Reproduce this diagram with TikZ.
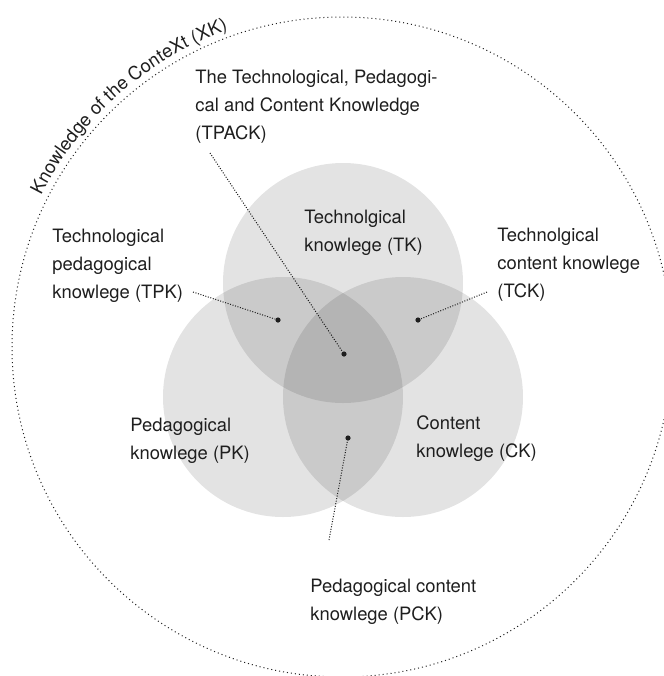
\documentclass[tikz,border=0pt]{standalone}
\usepackage{fontspec}
\setmainfont{TeX Gyre Heros}
\usepackage{xcolor}
\usepackage{tikz}
\usetikzlibrary{positioning, decorations.text}
\definecolor{textgray}{HTML}{1E1E1E}

\begin{document}
\begin{tikzpicture}[x=0.5pt, y=-0.5pt]
    % Styles
    \tikzstyle{set_circle} = [circle, fill=black, fill opacity=0.11, minimum size=120pt, inner sep=0pt]
    \tikzstyle{context} = [circle, draw=textgray, line width=0.5pt, dash pattern=on 0.5pt off 1.5pt, minimum size=330pt, inner sep=0pt]
    \tikzstyle{label_text} = [align=left, anchor=base west, inner sep=0pt, text=textgray, font=\fontsize{9.2}{14}\selectfont]
    \tikzstyle{leader_dot} = [circle, fill=textgray, minimum size=2.6pt, inner sep=0pt]
    \tikzstyle{leader} = [draw=textgray, line width=0.5pt, dash pattern=on 0.5pt off 0.8pt]
    \useasboundingbox (0,0) rectangle (664,676);
    % Context
    \node[context] (xk) at (342,347) {};
    \path[decorate, decoration={text along path, text align=center, text color=textgray,
        text={|\fontsize{9.2}{14}\selectfont|Knowledge of the ConteXt (XK)}}]
        (xk.center) ++(-165:337) arc[start angle=-165, end angle=-98, radius=337];
    % Knowledge circles
    \node[set_circle] (tk) at (343,283) {};
    \node[set_circle] (pk) at (283,397) {};
    \node[set_circle] (ck) at (403,397) {};
    % Labels (base = last line)
    \node[label_text] (tpack) at (195,139) {The Technological, Pedagogi-\\cal and Content Knowledge\\(TPACK)};
    \node[label_text] (tk_text) at (304,251) {Technolgical\\knowlege (TK)};
    \node[label_text] (tpk) at (52,298) {Technological\\pedagogical\\knowlege (TPK)};
    \node[label_text] (tck) at (497,297) {Technolgical\\content knowlege\\(TCK)};
    \node[label_text] (pk_text) at (130,459) {Pedagogical\\knowlege (PK)};
    \node[label_text] (ck_text) at (416,457) {Content\\knowlege (CK)};
    \node[label_text] (pck) at (310,620) {Pedagogical content\\knowlege (PCK)};
    % Leaders
    \node[leader_dot] (tpack_dot) at (344,354) {};
    \node[leader_dot] (tpk_dot) at (278,320) {};
    \node[leader_dot] (tck_dot) at (418,320) {};
    \node[leader_dot] (pck_dot) at (348,438) {};
    \coordinate (tpack_end) at (210,153);
    \coordinate (tpk_end) at (193,292);
    \coordinate (tck_end) at (487,292);
    \coordinate (pck_end) at (329,540);
    \draw[leader] (tpack_end) -- (tpack_dot);
    \draw[leader] (tpk_end) -- (tpk_dot);
    \draw[leader] (tck_end) -- (tck_dot);
    \draw[leader] (pck_end) -- (pck_dot);
\end{tikzpicture}
\end{document}
